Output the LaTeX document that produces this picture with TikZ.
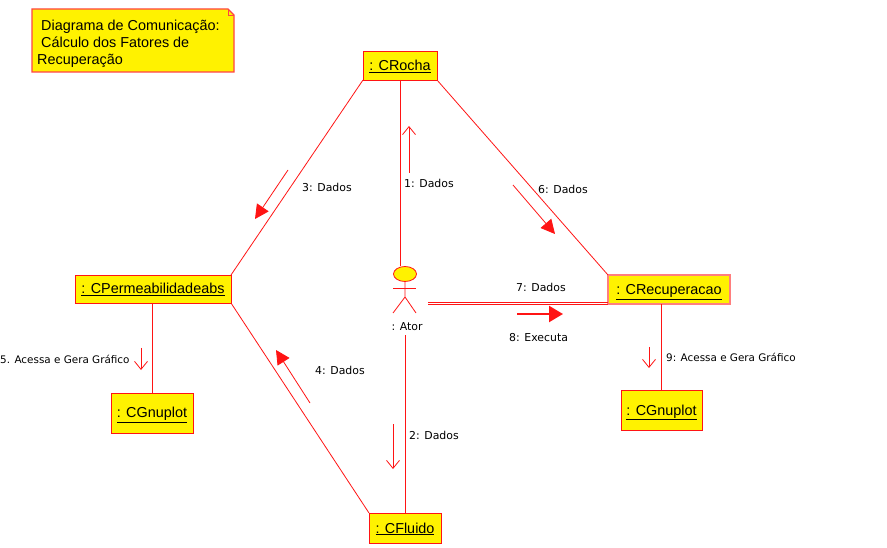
\documentclass[tikz,border=0pt]{standalone}
\usepackage{fontspec}
\setmainfont{Liberation Sans}
\newfontfamily\lblfont{DejaVu Sans}
\usetikzlibrary{arrows.meta,calc,shapes.geometric}
\definecolor{umlred}{RGB}{255,20,20}
\tikzset{
 x=1pt,y=-1pt,
 objbox/.style={draw=umlred,line width=0.9pt,fill=yellow,anchor=north west,inner sep=0pt,outer sep=0pt,align=center,font=\fontsize{14.4}{16}\selectfont},
 link/.style={draw=umlred,line width=0.8pt},
 openarrow/.style={draw=umlred,line width=0.8pt,-{Straight Barb[length=8pt,width=13pt,color=umlred]}},
 fillarrow/.style={draw=umlred,line width=0.8pt,-{Triangle[length=14pt,width=14pt,color=umlred,fill=umlred]}},
 thickarrow/.style={draw=umlred,line width=2.4pt,-{Triangle[length=14pt,width=16pt,color=umlred,fill=umlred]}},
 lbl/.style={font=\lblfont\fontsize{10.9}{12}\selectfont,inner sep=0pt,text=black},
 smalllbl/.style={font=\lblfont\fontsize{10.4}{12}\selectfont,inner sep=0pt,text=black},
 notetxt/.style={anchor=base west,inner sep=0pt,font=\fontsize{14.4}{16}\selectfont},
}
\newcommand{\objname}[1]{\raisebox{-5pt}[0pt][0pt]{\underline{#1}}}
\begin{document}
\begin{tikzpicture}
\useasboundingbox (0,0) rectangle (887,548);
\fill[white] (0,0) rectangle (887,548);
% note
\filldraw[draw=umlred!80,line width=1.1pt,fill=yellow] (32,9) -- (228,9) -- (234,15) -- (234,72) -- (32,72) -- cycle;
\draw[draw=umlred!80,line width=.6pt] (228,9) -- (228,15) -- (234,15);
\node[notetxt] (noteA) at (41,31) {Diagrama de Comunicação:};
\node[notetxt] (noteB) at (41,48) {Cálculo dos Fatores de};
\node[notetxt] (noteC) at (37,65) {Recuperação};
% objects
\node[objbox,minimum width=74pt,minimum height=29pt] (rocha) at (363,51) {\objname{: CRocha}};
\node[objbox,minimum width=156pt,minimum height=28pt] (perm) at (75,275) {\objname{: CPermeabilidadeabs}};
\node[objbox,minimum width=82pt,minimum height=40pt] (gnuA) at (111,393) {\objname{: CGnuplot}};
\node[objbox,minimum width=122pt,minimum height=29pt,draw=umlred!55,line width=2pt] (recup) at (608,275) {\objname{: CRecuperacao}};
\node[objbox,minimum width=81pt,minimum height=40pt] (gnuB) at (621,390) {\objname{: CGnuplot}};
\node[objbox,minimum width=72pt,minimum height=30pt] (fluido) at (369,513) {\objname{: CFluido}};
% actor
\node[ellipse,draw=umlred,line width=.8pt,fill=yellow,minimum width=23pt,minimum height=15pt,inner sep=0pt] (head) at (405,274) {};
\coordinate (neck) at (405,297);
\coordinate (armL) at (393,288);
\coordinate (armR) at (416,288);
\coordinate (footL) at (393,313);
\coordinate (footR) at (416,313);
\draw[link] (head.south) -- (neck) -- (footL);
\draw[link] (neck) -- (footR);
\draw[link] (armL) -- (armR);
\node[lbl] (ator) at (407,327) {: Ator};
% links
\draw[link] (rocha.south west) -- (perm.north east);
\draw[link] (rocha.south east) -- (recup.north west);
\draw[link] (perm.south east) -- (fluido.north west);
\draw[link] (rocha.south -| head.north) ++(-5,0) coordinate (rs) -- (rs |- head.north);
\coordinate (fn) at ($(fluido.north -| ator.south)+(-2,0)$);
\draw[link] (fn) -- ($(fn |- ator.south)+(0,4)$);
\coordinate (pb) at ($(perm.south west)!0.494!(perm.south east)$);
\draw[link] (pb) -- (pb |- gnuA.north);
\coordinate (rb) at ($(recup.south west)!0.434!(recup.south east)$);
\draw[link] (rb) -- (rb |- gnuB.north);
\coordinate (dblL) at (428,302);
\coordinate (dblM) at (428,304.5);
\draw[link] (dblL) -- (dblL -| recup.west);
\draw[link] (dblM) -- (dblM -| recup.west);
% message arrows
\coordinate (a1s) at (409,173); \coordinate (a1e) at (409,126);
\coordinate (a2s) at (393,424); \coordinate (a2e) at (393,469);
\coordinate (a3s) at (288,170); \coordinate (a3e) at (255,219);
\coordinate (a4s) at (310,403); \coordinate (a4e) at (276,350);
\coordinate (a5s) at (141,348); \coordinate (a5e) at (141,370);
\coordinate (a6s) at (513,185); \coordinate (a6e) at (555,234);
\coordinate (a7s) at (517,314); \coordinate (a7e) at (563,314);
\coordinate (a9s) at (649,347); \coordinate (a9e) at (649,368);
\draw[openarrow] (a1s) -- (a1e);
\draw[openarrow] (a2s) -- (a2e);
\draw[fillarrow] (a3s) -- (a3e);
\draw[fillarrow] (a4s) -- (a4e);
\draw[openarrow] (a5s) -- (a5e);
\draw[fillarrow] (a6s) -- (a6e);
\draw[thickarrow] (a7s) -- (a7e);
\draw[openarrow] (a9s) -- (a9e);
% labels
\node[lbl,anchor=west] (m1) at (404,183) {1: Dados};
\node[lbl,anchor=west] (m2) at (409,435) {2: Dados};
\node[lbl,anchor=west] (m3) at (302,187) {3: Dados};
\node[lbl,anchor=west] (m4) at (315,370) {4: Dados};
\node[smalllbl,anchor=west] (m5) at (0,359) {5. Acessa e Gera Gráfico};
\node[lbl,anchor=west] (m6) at (538,189) {6: Dados};
\node[lbl,anchor=west] (m7) at (516,287) {7: Dados};
\node[lbl,anchor=west] (m8) at (509,338) {8: Executa};
\node[smalllbl,anchor=west] (m9) at (666,357) {9: Acessa e Gera Gráfico};
\end{tikzpicture}
\end{document}
